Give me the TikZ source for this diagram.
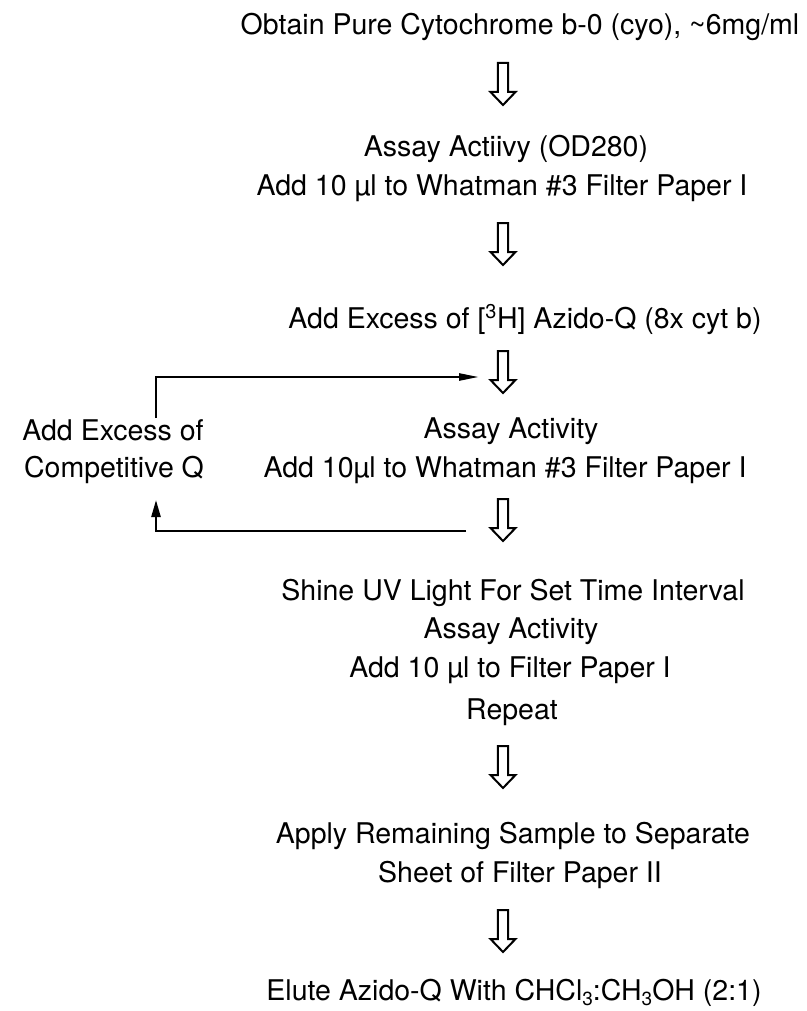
\documentclass[tikz,border=0pt]{standalone}
\usepackage{fontspec}
\setmainfont{TeX Gyre Heros}
\usetikzlibrary{arrows.meta}
\newcommand{\lowthree}{\raisebox{-0.18em}{\fontsize{19}{19}\selectfont 3}}
\tikzset{
  txt/.style={anchor=base,inner sep=0pt,font=\fontsize{28.5}{38}\selectfont},
  hollowarrow/.pic={
    \coordinate (-top) at (0,0);
    \coordinate (-tip) at (0,42);
    \draw[line width=2pt,line join=miter]
      (-5.2,0) -- (5.2,0) -- (5.2,29) -- (12.5,29) -- (0,42) -- (-12.5,29) -- (-5.2,29) -- cycle;},
  loopline/.style={line width=2.4pt,-{Triangle[length=20pt,width=7pt]}},
  loopup/.style={line width=2.4pt,-{Triangle[length=17pt,width=9pt]}}
}
\begin{document}
\begin{tikzpicture}[x=1pt,y=-1pt]
\useasboundingbox (0,0) rectangle (806,1011);
\node[txt] (t1) at (520,35) {Obtain Pure Cytochrome b-0 (cyo), \textasciitilde6mg/ml};
\pic (a1) at (503,63) {hollowarrow};
\node[txt] (t2) at (506,157) {Assay Actiivy (OD280)};
\node[txt] (t3) at (502,195) {Add 10 µl to Whatman \#3 Filter Paper I};
\pic (a2) at (503,223) {hollowarrow};
\node[txt] (t4) at (525,328) {Add Excess of [\textsuperscript{3}H] Azido-Q (8x cyt b)};
\pic (a3) at (503,351) {hollowarrow};
\node[txt] (q1) at (113,440) {Add Excess of};
\node[txt] (q2) at (114,477) {Competitive Q};
\node[txt] (t5) at (511,438) {Assay Activity};
\node[txt] (t6) at (505,477) {Add 10µl to Whatman \#3 Filter Paper I};
\pic (a4) at (503,499) {hollowarrow};
\node[txt] (t7) at (513,600) {Shine UV Light For Set Time Interval};
\node[txt] (t8) at (511,638) {Assay Activity};
\node[txt] (t9) at (510,677) {Add 10 µl to Filter Paper I};
\node[txt] (t10) at (512,719) {Repeat};
\pic (a5) at (503,746) {hollowarrow};
\node[txt] (t11) at (513,843) {Apply Remaining Sample to Separate};
\node[txt] (t12) at (520,882) {Sheet of Filter Paper II};
\pic (a6) at (503,910) {hollowarrow};
\node[txt] (t13) at (514,1000) {Elute Azido-Q With CHCl\lowthree:CH\lowthree OH (2:1)};
\coordinate (topstart) at (156,418);
\coordinate (topend) at (479,377);
\coordinate (botstart) at (466,531);
\coordinate (botend) at (156,500);
\draw[loopline] (topstart) |- (topend);
\draw[loopup] (botstart) -| (botend);
\end{tikzpicture}
\end{document}
